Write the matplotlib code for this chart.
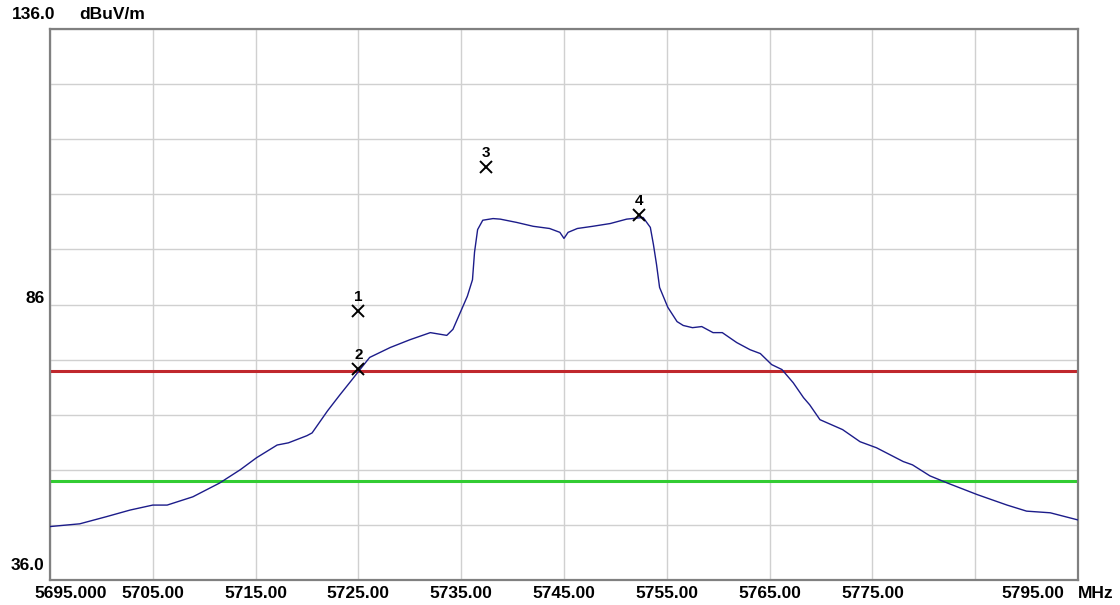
import numpy as np
import matplotlib
matplotlib.use("Agg")
import matplotlib.pyplot as plt

# measured trace (MHz, dBuV/m)
freq = [5695.0, 5697.9, 5700.5, 5702.8, 5705.0, 5706.4, 5708.9, 5711.5, 5713.5, 5715.1,
        5717.1, 5718.2, 5720.0, 5720.5, 5722.0, 5723.2, 5724.4, 5725.2, 5726.1, 5728.1,
        5730.0, 5732.0, 5733.6, 5734.2, 5734.9, 5735.6, 5736.1, 5736.3, 5736.6, 5737.1,
        5738.1, 5738.8, 5740.4, 5742.0, 5743.6, 5744.6, 5745.0, 5745.4, 5746.3, 5747.8,
        5749.5, 5751.1, 5752.7, 5753.4, 5753.7, 5754.0, 5754.3, 5755.1, 5756.0, 5756.6,
        5757.5, 5758.4, 5759.5, 5760.4, 5761.8, 5763.1, 5764.1, 5765.2, 5766.2, 5767.3,
        5768.3, 5768.9, 5769.9, 5772.1, 5773.8, 5775.4, 5778.0, 5778.9, 5780.6, 5782.3,
        5785.2, 5788.1, 5790.0, 5792.3, 5795.0]
level = [45.7, 46.2, 47.5, 48.7, 49.6, 49.6, 51.1, 53.6, 56.0, 58.2,
         60.5, 60.9, 62.2, 62.7, 66.7, 69.6, 72.4, 74.3, 76.4, 78.2,
         79.6, 80.9, 80.4, 81.5, 84.5, 87.5, 90.5, 95.5, 99.6, 101.3,
         101.6, 101.5, 100.9, 100.2, 99.8, 99.1, 98.0, 99.1, 99.8, 100.2,
         100.7, 101.5, 101.8, 100.0, 96.9, 93.3, 89.1, 85.5, 82.9, 82.2,
         81.8, 82.0, 80.9, 80.9, 79.1, 77.8, 77.1, 75.1, 74.2, 71.8,
         69.1, 67.8, 65.1, 63.3, 61.1, 60.0, 57.5, 56.9, 54.9, 53.6,
         51.5, 49.6, 48.5, 48.2, 46.9]

# limit lines
peak_limit = 74.0
avg_limit = 54.0

# markers
mk_id = ["1", "2", "3", "4"]
mk_freq = [5725.0, 5725.0, 5737.4, 5752.3]
mk_level = [84.8, 74.3, 110.9, 102.3]

x_ticks = [5695, 5705, 5715, 5725, 5735, 5745, 5755, 5765, 5775, 5785, 5795]
x_labels = ["", "5705.00", "5715.00", "5725.00", "5735.00", "5745.00",
            "5755.00", "5765.00", "5775.00", "", ""]

fig = plt.figure(figsize=(11.2, 6.05), dpi=100)
ax = fig.add_axes([0.0446, 0.0413, 0.9179, 0.9107])

ax.plot(freq, level, color="#1c1c8a", lw=1.0, zorder=3)
ax.axhline(peak_limit, color="#c0282d", lw=2.2, zorder=2)
ax.axhline(avg_limit, color="#33cc33", lw=2.2, zorder=2)

ax.plot(mk_freq, mk_level, ls="none", marker="x", ms=8, mew=1.4, color="black", zorder=4)
for lab, fx, fy in zip(mk_id, mk_freq, mk_level):
    ax.annotate(lab, (fx, fy), xytext=(0, 5), textcoords="offset points",
                ha="center", va="bottom", fontsize=11, fontweight="bold",
                family="Liberation Sans")

ax.set_xlim(5695, 5795)
ax.set_ylim(36, 136)
ax.set_xticks(x_ticks)
ax.set_xticklabels(x_labels)
ax.set_yticks(np.arange(36, 137, 10))
ax.set_yticklabels([])
ax.tick_params(length=0, pad=4)
for t in ax.get_xticklabels():
    t.set_fontfamily("Liberation Sans")
    t.set_fontweight("bold")
    t.set_fontsize(12.5)
ax.grid(True, color="#d0d0d0", lw=1.0)
ax.set_axisbelow(True)
for s in ax.spines.values():
    s.set_color("#808080")
    s.set_linewidth(1.6)

lbl = dict(fontsize=12.5, fontweight="bold", family="Liberation Sans")
ax.annotate("5695.000", (5695, 36), xytext=(-11, -4), textcoords="offset points",
            ha="left", va="top", **lbl)
ax.annotate("5795.00", (5795, 36), xytext=(-10, -4), textcoords="offset points",
            ha="right", va="top", **lbl)
ax.annotate("MHz", (5795, 36), xytext=(0, -4), textcoords="offset points",
            ha="left", va="top", **lbl)
ax.annotate("136.0", (5695, 136), xytext=(-12, 5), textcoords="offset points",
            ha="center", va="bottom", **lbl)
ax.annotate("dBuV/m", (5695, 136), xytext=(21, 5), textcoords="offset points",
            ha="left", va="bottom", **lbl)
ax.annotate("86", (5695, 86), xytext=(-4, 1), textcoords="offset points",
            ha="right", va="baseline", **lbl)
ax.annotate("36.0", (5695, 36), xytext=(-4, 7), textcoords="offset points",
            ha="right", va="baseline", **lbl)

fig.savefig("out.png", dpi=100)
